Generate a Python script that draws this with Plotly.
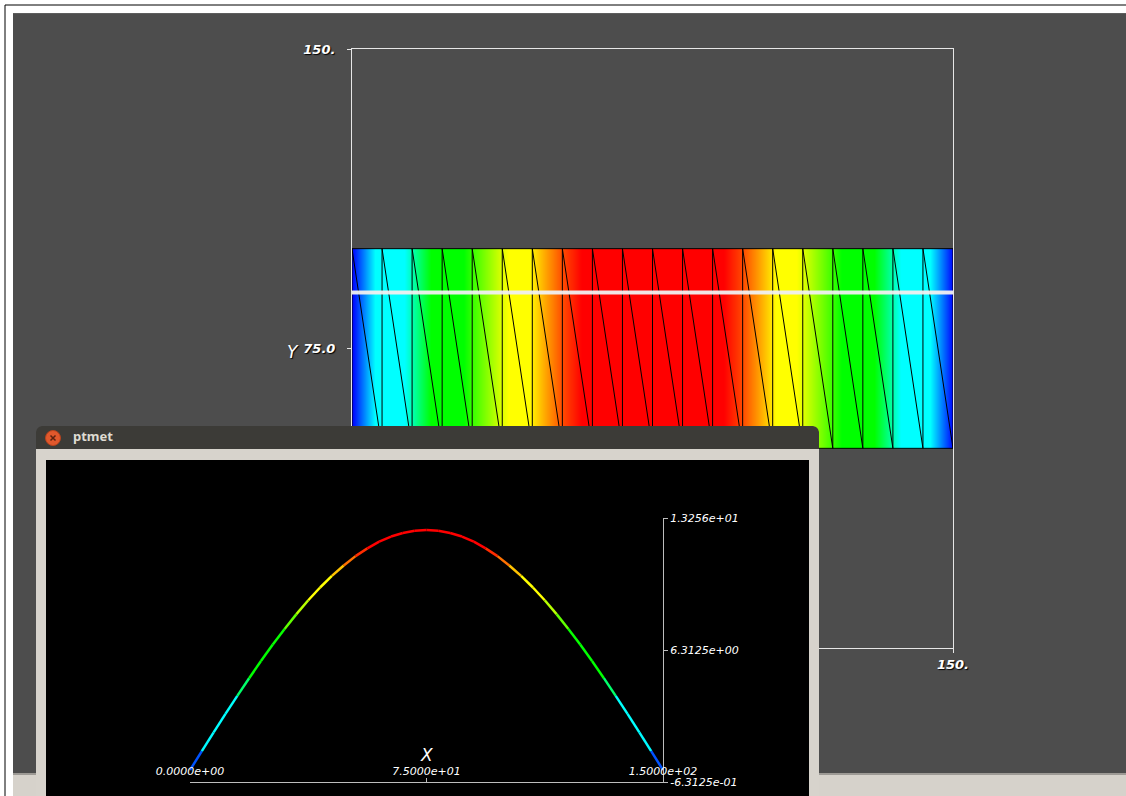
import plotly.graph_objects as go
from plotly.colors import sample_colorscale

W, H = 1126, 796

# ---------------- data ----------------
node_x = [0, 7.5, 15, 22.5, 30, 37.5, 45, 52.5, 60, 67.5, 75,
          82.5, 90, 97.5, 105, 112.5, 120, 127.5, 135, 142.5, 150]
node_val = [0.0, 1.98, 3.90, 5.73, 7.42, 8.93, 10.21, 11.25, 12.01, 12.47, 12.625,
            12.47, 12.01, 11.25, 10.21, 8.93, 7.42, 5.73, 3.90, 1.98, 0.0]
strip_y_edges = [50, 75, 100]
strip_bottom = 50
strip_top = 100
cut_y = 89

curve_x = [0, 3.75, 7.5, 11.25, 15, 18.75, 22.5, 26.25, 30, 33.75, 37.5,
           41.25, 45, 48.75, 52.5, 56.25, 60, 63.75, 67.5, 71.25, 75,
           78.75, 82.5, 86.25, 90, 93.75, 97.5, 101.25, 105, 108.75, 112.5,
           116.25, 120, 123.75, 127.5, 131.25, 135, 138.75, 142.5, 146.25, 150]
curve_val = [0.0, 0.99, 1.98, 2.95, 3.90, 4.83, 5.73, 6.60, 7.42, 8.20, 8.93,
             9.60, 10.21, 10.76, 11.25, 11.66, 12.01, 12.28, 12.47, 12.59, 12.625,
             12.59, 12.47, 12.28, 12.01, 11.66, 11.25, 10.76, 10.21, 9.60, 8.93,
             8.20, 7.42, 6.60, 5.73, 4.83, 3.90, 2.95, 1.98, 0.99, 0.0]
val_max = 12.625

main_ticks = [0, 75, 150]
main_ticktext = ['0.0', '75.0', '150.']
ptmet_xticks = [0, 75, 150]
ptmet_xticktext = ['0.0000e+00', '7.5000e+01', '1.5000e+02']
ptmet_yticks = [-0.63125, 6.3125, 13.256]
ptmet_yticktext = ['-6.3125e-01', '6.3125e+00', '1.3256e+01']
ptmet_yrange = [-0.63125, 13.256]

# ---------------- styles ----------------
colorscale = [
    [0.00, 'rgb(0,0,255)'],
    [0.12, 'rgb(0,255,255)'],
    [0.27, 'rgb(0,255,255)'],
    [0.40, 'rgb(0,255,0)'],
    [0.55, 'rgb(0,255,0)'],
    [0.73, 'rgb(255,255,0)'],
    [0.80, 'rgb(255,255,0)'],
    [0.845, 'rgb(255,165,0)'],
    [0.93, 'rgb(255,0,0)'],
    [1.00, 'rgb(255,0,0)'],
]


def px(x):
    return x / W


def py(y):
    return 1 - y / H


fig = go.Figure()

# ---------- main plot (x, y) ----------
fig.add_trace(go.Heatmap(
    x=node_x, y=strip_y_edges, z=[node_val, node_val],
    zmin=0, zmax=val_max, colorscale=colorscale, zsmooth='best',
    showscale=False, hoverinfo='skip', xaxis='x', yaxis='y'))

mx, my = [], []
for xv in node_x:
    mx += [xv, xv, None]
    my += [strip_bottom, strip_top, None]
mx += [node_x[0], node_x[-1], None, node_x[0], node_x[-1], None]
my += [strip_bottom, strip_bottom, None, strip_top, strip_top, None]
for i in range(len(node_x) - 1):
    mx += [node_x[i], node_x[i + 1], None]
    my += [strip_top, strip_bottom, None]
fig.add_trace(go.Scatter(x=mx, y=my, mode='lines', line=dict(color='black', width=1),
                         hoverinfo='skip', showlegend=False, xaxis='x', yaxis='y'))

fig.add_trace(go.Scatter(x=[node_x[0], node_x[-1]], y=[cut_y, cut_y], mode='lines',
                         line=dict(color='rgba(240,240,240,0.95)', width=4),
                         hoverinfo='skip', showlegend=False, xaxis='x', yaxis='y'))


# ---------- window chrome (x2, y2) in pixel coordinates ----------
def poly(xs, ys, color):
    fig.add_trace(go.Scatter(x=xs, y=ys, mode='lines', fill='toself', fillcolor=color,
                             line=dict(width=0, color=color), hoverinfo='skip',
                             showlegend=False, xaxis='x2', yaxis='y2'))


poly([36, 36, 37, 39, 42, 813, 816, 818, 819, 819, 36],
     [449, 432, 429, 427, 426, 426, 427, 429, 432, 449, 449], '#3c3b37')
poly([36, 819, 819, 36, 36], [449, 449, 800, 800, 449], '#d7d3cc')
poly([46, 809, 809, 46, 46], [460, 460, 800, 800, 460], '#000000')
fig.add_trace(go.Scatter(x=[53], y=[438], mode='markers',
                         marker=dict(size=15, color='#e0582c', line=dict(color='#b8431d', width=1)),
                         hoverinfo='skip', showlegend=False, xaxis='x2', yaxis='y2'))
fig.add_trace(go.Scatter(x=[53], y=[438], mode='markers',
                         marker=dict(size=5, symbol='x-thin', line=dict(color='#5a2210', width=1.5)),
                         hoverinfo='skip', showlegend=False, xaxis='x2', yaxis='y2'))
fig.add_trace(go.Scatter(x=[73], y=[438], mode='text', text=['ptmet'], textposition='middle right',
                         textfont=dict(family='Noto Sans', size=13, color='#dfdbd2', weight='bold'),
                         hoverinfo='skip', showlegend=False, xaxis='x2', yaxis='y2'))

# ---------- ptmet curve (x3, y3) ----------
for i in range(len(curve_x) - 1):
    mid = (curve_val[i] + curve_val[i + 1]) / 2 / val_max
    col = sample_colorscale(colorscale, [mid])[0]
    fig.add_trace(go.Scatter(x=[curve_x[i], curve_x[i + 1]], y=[curve_val[i], curve_val[i + 1]],
                             mode='lines', line=dict(color=col, width=2.5),
                             hoverinfo='skip', showlegend=False, xaxis='x3', yaxis='y3'))

main_font = dict(family='DejaVu Sans', size=13, color='white', style='italic', weight='bold',
                 shadow='1px 1px 1px #000000')
pt_font = dict(family='DejaVu Sans', size=11, color='white', style='italic')

shapes = [
    dict(type='rect', xref='paper', yref='paper', x0=px(5), x1=px(1130), y0=py(5), y1=py(800),
         line=dict(color='black', width=1), fillcolor='white', layer='below'),
    dict(type='rect', xref='paper', yref='paper', x0=px(13), x1=px(1126), y0=py(13), y1=py(773),
         line=dict(width=0), fillcolor='#4d4d4d', layer='below'),
    dict(type='rect', xref='paper', yref='paper', x0=px(13), x1=px(1126), y0=py(13), y1=py(14),
         line=dict(width=0), fillcolor='#5e5e5e', layer='below'),
    dict(type='rect', xref='paper', yref='paper', x0=px(13), x1=px(1126), y0=py(773), y1=py(775),
         line=dict(width=0), fillcolor='#9d9a95', layer='below'),
    dict(type='rect', xref='paper', yref='paper', x0=px(13), x1=px(1126), y0=py(775), y1=py(796),
         line=dict(width=0), fillcolor='#d6d2cb', layer='below'),
]

annotations = [
    dict(text='Y', xref='paper', yref='paper', x=px(293), y=py(352), showarrow=False,
         font=dict(family='DejaVu Sans', size=17, color='white', style='italic',
                   shadow='1px 1px 1px #000000'),
         xanchor='center', yanchor='middle'),
    dict(text='X', xref='x3', yref='paper', x=75, y=py(755), showarrow=False,
         font=dict(family='DejaVu Sans', size=17, color='white', style='italic'),
         xanchor='center', yanchor='middle'),
]

fig.update_layout(
    width=W, height=H, autosize=False,
    margin=dict(l=0, r=0, t=0, b=0, pad=0, autoexpand=False),
    paper_bgcolor='white', plot_bgcolor='rgba(0,0,0,0)',
    showlegend=False,
    shapes=shapes, annotations=annotations,
    xaxis=dict(domain=[px(352), px(953)], range=[0, 150], anchor='y',
               showline=True, linecolor='#e6e6e6', linewidth=1, mirror=True,
               ticks='outside', ticklen=4, tickcolor='#e6e6e6',
               tickvals=main_ticks, ticktext=main_ticktext, tickfont=main_font,
               ticklabelstandoff=0, automargin=False,
               showgrid=False, zeroline=False, fixedrange=True),
    yaxis=dict(domain=[py(648), py(49)], range=[0, 150], anchor='x',
               showline=True, linecolor='#e6e6e6', linewidth=1, mirror=True,
               ticks='outside', ticklen=4, tickcolor='#e6e6e6',
               tickvals=main_ticks, ticktext=main_ticktext, tickfont=main_font,
               ticklabelstandoff=9, automargin=False,
               showgrid=False, zeroline=False, fixedrange=True),
    xaxis2=dict(domain=[0, 1], range=[0, W], anchor='y2', visible=False, fixedrange=True,
                automargin=False),
    yaxis2=dict(domain=[0, 1], range=[H, 0], anchor='x2', visible=False, fixedrange=True,
                automargin=False),
    xaxis3=dict(domain=[px(190), px(663)], range=[0, 150], anchor='y3',
                showline=True, linecolor='#bdbdbd', linewidth=1,
                ticks='inside', ticklen=4, tickcolor='#bdbdbd',
                tickvals=ptmet_xticks, ticktext=ptmet_xticktext, tickfont=pt_font,
                ticklabelposition='inside', ticklabeloverflow='allow', automargin=False,
                showgrid=False, zeroline=False, fixedrange=True),
    yaxis3=dict(domain=[py(782), py(518)], range=ptmet_yrange, anchor='x3', side='right',
                showline=True, linecolor='#bdbdbd', linewidth=1,
                ticks='outside', ticklen=4, tickcolor='#bdbdbd',
                tickvals=ptmet_yticks, ticktext=ptmet_yticktext, tickfont=pt_font,
                automargin=False,
                showgrid=False, zeroline=False, fixedrange=True),
)

fig.write_html('out.html', config={'displayModeBar': False},
               post_script="document.body.style.margin='0px';document.body.style.overflow='hidden';")
